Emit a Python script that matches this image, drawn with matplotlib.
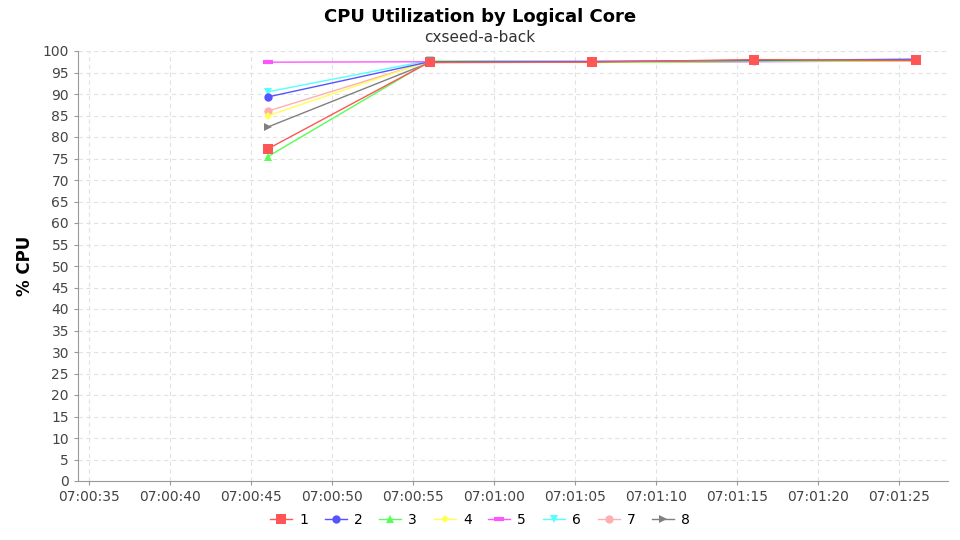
import datetime as dt
import matplotlib
matplotlib.use("Agg")
import matplotlib.pyplot as plt
import matplotlib.dates as mdates

# sample times (seconds after 07:00:00)
seconds = [46, 56, 66, 76, 86]
cores = ['1', '2', '3', '4', '5', '6', '7', '8']
core1 = [77.2, 97.4, 97.4, 98.0, 97.8]
core2 = [89.3, 97.5, 97.6, 97.8, 98.1]
core3 = [75.4, 97.6, 97.4, 97.6, 97.8]
core4 = [84.9, 97.7, 97.3, 97.6, 97.7]
core5 = [97.4, 97.5, 97.4, 97.5, 97.7]
core6 = [90.5, 97.8, 97.5, 97.6, 97.9]
core7 = [86.0, 97.6, 97.5, 97.7, 97.8]
core8 = [82.3, 97.3, 97.4, 97.6, 97.8]

colors = ['#ff5555', '#5555ff', '#55ff55', '#ffff55', '#ff55ff', '#55ffff', '#ffafaf', '#808080']
markers = ['s', 'o', '^', 'D', '_', 'v', 'o', '>']

base = dt.datetime(2020, 1, 1, 7, 0, 0)
times = [base + dt.timedelta(seconds=s) for s in seconds]

fig = plt.figure(figsize=(9.6, 5.4), dpi=100)
ax = fig.add_axes([78 / 960, 1 - 481 / 540, 870 / 960, 430 / 540])

series = [core1, core2, core3, core4, core5, core6, core7, core8]
n = len(series)
for i, (name, vals, c, m) in enumerate(zip(cores, series, colors, markers)):
    ms = 6
    mew = 0
    if m == '_':
        ms, mew = 7, 3
    elif m == 'D':
        ms = 4.5
    elif m == 's':
        ms = 6.5
    # first series on top, like the original renderer
    ax.plot(times, vals, color=c, marker=m, markersize=ms, markeredgewidth=mew,
            linewidth=1, label=name, zorder=3 + n - i)

ax.set_xlim(base + dt.timedelta(seconds=34.3), base + dt.timedelta(seconds=88.0))
ax.set_ylim(0, 100)
ax.set_yticks(range(0, 101, 5))
ax.xaxis.set_major_locator(mdates.SecondLocator(bysecond=range(0, 60, 5)))
ax.xaxis.set_major_formatter(mdates.DateFormatter('%H:%M:%S'))

ax.grid(True, color='#e2e2e2', linestyle=(0, (4, 3)), linewidth=0.8)
for s in ['top', 'right']:
    ax.spines[s].set_visible(False)
for s in ['left', 'bottom']:
    ax.spines[s].set_color('#999999')
ax.tick_params(colors='#999999', labelcolor='#444444', labelsize=10, length=3)
ax.set_ylabel('% CPU', fontsize=12, fontweight='bold', labelpad=6)

fig.text(0.5, 1 - 17 / 540, 'CPU Utilization by Logical Core', ha='center', va='center',
         fontsize=13, fontweight='bold')
fig.text(0.5, 1 - 37 / 540, 'cxseed-a-back', ha='center', va='center', fontsize=11, color='#333333')

fig.legend(loc='center', bbox_to_anchor=(0.5, 1 - 520 / 540), ncol=8, frameon=False,
           fontsize=10, handlelength=1.6, columnspacing=1.2, handletextpad=0.5)

fig.savefig('out.png', dpi=100)
